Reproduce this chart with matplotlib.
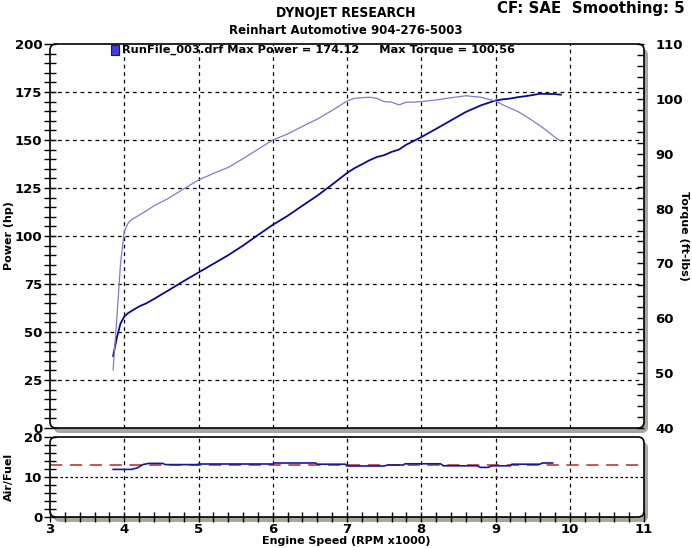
import matplotlib
matplotlib.use("Agg")
import matplotlib.pyplot as plt
from matplotlib.patches import FancyBboxPatch, Rectangle
from matplotlib.transforms import IdentityTransform
from matplotlib.ticker import MultipleLocator

# ---------------- data ----------------
rpm = [3.85, 3.90, 3.95, 4.00, 4.05, 4.10, 4.20, 4.30, 4.40, 4.50, 4.60, 4.80,
       5.00, 5.20, 5.40, 5.60, 5.80, 6.00, 6.20, 6.40, 6.60, 6.80, 7.00, 7.10,
       7.20, 7.30, 7.40, 7.50, 7.60, 7.70, 7.80, 7.90, 8.00, 8.20, 8.40, 8.60,
       8.80, 9.00, 9.10, 9.20, 9.30, 9.40, 9.50, 9.60, 9.70, 9.80, 9.88]
power_hp = [37.5, 47.0, 54.5, 58.0, 59.8, 61.0, 63.3, 65.0, 67.2, 69.5, 71.8, 76.5,
            81.0, 85.5, 90.0, 95.0, 100.5, 105.8, 110.5, 115.8, 121.0, 126.8, 132.8, 135.3,
            137.3, 139.4, 141.1, 142.1, 143.8, 145.0, 147.6, 149.5, 151.5, 155.8, 160.2, 164.6,
            168.0, 170.6, 171.2, 171.6, 172.3, 172.8, 173.4, 174.1, 174.0, 173.9, 173.6]
torque_ftlb = [50.6, 60.0, 70.0, 75.8, 77.3, 78.0, 78.8, 79.6, 80.5, 81.2, 81.9, 83.6,
               85.2, 86.4, 87.5, 89.1, 90.8, 92.5, 93.6, 95.0, 96.3, 97.9, 99.6, 100.1,
               100.2, 100.3, 100.1, 99.5, 99.4, 98.9, 99.4, 99.4, 99.5, 99.8, 100.2, 100.56,
               100.3, 99.6, 98.9, 98.3, 97.7, 96.9, 96.0, 95.1, 94.1, 93.0, 92.3]

afr_rpm = [3.85, 4.10, 4.18, 4.25, 4.33, 4.52, 4.55, 5.00, 5.00, 6.00, 6.02, 6.58,
           6.60, 6.98, 7.00, 7.50, 7.55, 7.76, 7.78, 8.26, 8.30, 8.75, 8.80, 8.90,
           8.95, 9.20, 9.22, 9.60, 9.63, 9.77]
afr = [11.9, 11.9, 12.3, 13.1, 13.4, 13.4, 13.1, 13.1, 13.25, 13.25, 13.5, 13.5,
       13.2, 13.2, 12.75, 12.75, 13.0, 13.0, 13.3, 13.3, 12.8, 12.8, 12.4, 12.4,
       12.8, 12.8, 13.2, 13.2, 13.5, 13.5]
afr_target = 13.0

x_ticks = [3, 4, 5, 6, 7, 8, 9, 10, 11]
hp_ticks = [0, 25, 50, 75, 100, 125, 150, 175, 200]
tq_ticks = [40, 50, 60, 70, 80, 90, 100, 110]
afr_ticks = [0, 10, 20]

title = "DYNOJET RESEARCH"
subtitle = "Reinhart Automotive 904-276-5003"
corner = "CF: SAE  Smoothing: 5"
legend_text = "RunFile_003.drf Max Power = 174.12     Max Torque = 100.56"

# ---------------- figure ----------------
W, H = 692, 548
fig = plt.figure(figsize=(W / 100, H / 100), dpi=100)
fig.patch.set_facecolor("white")

FONT = "DejaVu Sans"
POWER_C = "#0a0a8c"
TORQUE_C = "#7c7cd2"
SHADOW_C = "#aaa69d"


def px_rect(x0, ytop, x1, ybot):
    return [x0 / W, 1 - ybot / H, (x1 - x0) / W, (ybot - ytop) / H]


def framed(x0, ytop, x1, ybot):
    bx, by = x0, H - ybot
    w, h = x1 - x0, ybot - ytop
    sh = FancyBboxPatch((bx + 4, by - 5), w, h, boxstyle="round,pad=0,rounding_size=6",
                        transform=IdentityTransform(), facecolor=SHADOW_C,
                        edgecolor="none", zorder=-3)
    bg = FancyBboxPatch((bx, by), w, h, boxstyle="round,pad=0,rounding_size=6",
                        transform=IdentityTransform(), facecolor="white",
                        edgecolor="none", zorder=-2)
    fr = FancyBboxPatch((bx, by), w, h, boxstyle="round,pad=0,rounding_size=6",
                        transform=IdentityTransform(), facecolor="none",
                        edgecolor="black", linewidth=1.2, zorder=5)
    for p in (sh, bg, fr):
        fig.add_artist(p)


def bold_ticks(a):
    for lab in a.get_xticklabels() + a.get_yticklabels():
        lab.set_fontweight("bold")
        lab.set_fontfamily(FONT)


# main panel
MX0, MX1, MY0, MY1 = 50, 644, 44, 428
framed(MX0, MY0, MX1, MY1)
ax = fig.add_axes(px_rect(MX0, MY0, MX1, MY1))
ax.set_facecolor("none")
for s in ax.spines.values():
    s.set_visible(False)
ax.set_xlim(3, 11)
ax.set_ylim(0, 200)
ax.set_xticks(x_ticks)
ax.set_yticks(hp_ticks)
ax.yaxis.set_minor_locator(MultipleLocator(5))
ax.tick_params(axis="x", which="both", bottom=False, labelbottom=False)
ax.tick_params(axis="y", which="both", direction="inout", length=8, width=1,
               pad=1.5, labelsize=9.5)
bold_ticks(ax)
for xv in x_ticks[1:-1]:
    ax.axvline(xv, color="black", lw=0.9, ls=(0, (3, 3)), zorder=1)
for yv in hp_ticks[1:-1]:
    ax.axhline(yv, color="black", lw=0.9, ls=(0, (3, 3)), zorder=1)

ax.plot(rpm, power_hp, color=POWER_C, lw=1.3, zorder=4)

ax2 = ax.twinx()
for s in ax2.spines.values():
    s.set_visible(False)
ax2.set_facecolor("none")
ax2.set_ylim(40, 110)
ax2.set_yticks(tq_ticks)
ax2.yaxis.set_minor_locator(MultipleLocator(2))
ax2.tick_params(axis="y", which="both", direction="in", length=5, width=1,
                pad=8, labelsize=9.5)
bold_ticks(ax2)
ax2.plot(rpm, torque_ftlb, color=TORQUE_C, lw=0.9, zorder=3)

# axis labels placed in pixels
fig.text(9 / W, 1 - 236 / H, "Power (hp)", fontsize=8, fontweight="bold",
         family=FONT, rotation=90, ha="center", va="center")
fig.text(684 / W, 1 - 236 / H, "Torque (ft-lbs)", fontsize=8, fontweight="bold",
         family=FONT, rotation=-90, ha="center", va="center")

# legend entry
fig.add_artist(Rectangle((111, H - 55), 8, 10, transform=IdentityTransform(),
                         facecolor="#3b3bf0", edgecolor="#10108a", lw=0.8, zorder=6))
fig.text(122 / W, 1 - 50 / H, legend_text, fontsize=8.2, fontweight="bold",
         family=FONT, va="center", ha="left")

# AFR panel
BX0, BX1, BY0, BY1 = 50, 644, 437, 517
framed(BX0, BY0, BX1, BY1)
bx = fig.add_axes(px_rect(BX0, BY0, BX1, BY1))
bx.set_facecolor("none")
for s in bx.spines.values():
    s.set_visible(False)
bx.set_xlim(3, 11)
bx.set_ylim(0, 20)
bx.set_xticks(x_ticks)
bx.set_yticks(afr_ticks)
bx.xaxis.set_minor_locator(MultipleLocator(0.2))
bx.yaxis.set_minor_locator(MultipleLocator(2))
bx.tick_params(axis="x", which="both", direction="inout", length=7, width=1,
               pad=1, labelsize=9.5)
bx.tick_params(axis="y", which="both", direction="inout", length=8, width=1,
               pad=1.5, labelsize=9.5)
bold_ticks(bx)
for xv in x_ticks[1:-1]:
    bx.axvline(xv, color="black", lw=0.9, ls=(0, (3, 3)), zorder=1)
bx.axhline(10, color="black", lw=0.9, ls=(0, (2, 2)), zorder=1)
bx.axhline(afr_target, color="#b42828", lw=1.1, ls=(0, (8, 5)), zorder=2)
bx.plot(afr_rpm, afr, color="#1616a0", lw=1.2, zorder=3)
fig.text(9 / W, 1 - 477 / H, "Air/Fuel", fontsize=8, fontweight="bold",
         family=FONT, rotation=90, ha="center", va="center")
fig.text(346 / W, 1 - 541 / H, "Engine Speed (RPM x1000)", fontsize=8,
         fontweight="bold", family=FONT, ha="center", va="center")

# titles
fig.text(346 / W, 1 - 13 / H, title, fontsize=10, fontweight="bold",
         family=FONT, fontstretch="condensed", ha="center", va="center")
fig.text(346 / W, 1 - 30 / H, subtitle, fontsize=8.5, fontweight="bold",
         family=FONT, ha="center", va="center")
fig.text(591 / W, 1 - 9 / H, corner, fontsize=10.8, fontweight="bold",
         family=FONT, ha="center", va="center")

fig.savefig("out.png", dpi=100)
